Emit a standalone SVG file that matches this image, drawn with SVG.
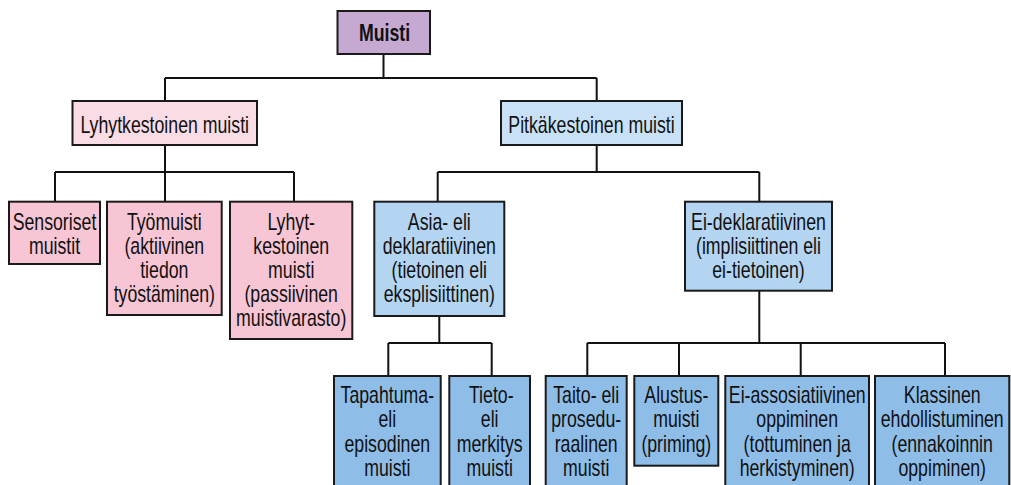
<svg xmlns="http://www.w3.org/2000/svg" width="1011" height="485" viewBox="0 0 1011 485">
<style>
rect{stroke:#1a1a1a;stroke-width:2}
text{font-family:"Liberation Sans",Arial,sans-serif;font-size:23px;fill:#111;text-anchor:middle}
.root{fill:#c5a9d1}
.st{fill:#fadce5}
.stc{fill:#f7c5d3}
.lt{fill:#c9e1f6}
.mid{fill:#b3d5f1}
.leaf{fill:#8ebde8}
#connectors path{fill:none;stroke:#111;stroke-width:2}
</style>
<rect width="1011" height="485" fill="#fff" style="stroke:none"/>
<g id="connectors">
<path d="M383.5 54V78M165 78H596.7M165 78V101M596.7 78V101"/>
<path d="M165 145V172M55 172H294M55 172V201.7M165 172V201.7M294 172V201.7"/>
<path d="M596.7 145V172M437.7 172H759.3M437.7 172V201.7M759.3 172V201.7"/>
<path d="M439.3 316V343M388.3 343H491.7M388.3 343V376M491.7 343V376"/>
<path d="M759.3 290.7V343M587.3 343H945M587.3 343V376M679 343V376M800.7 343V376M945 343V376"/>
</g>
<g id="muisti"><rect class="root" x="337.5" y="11" width="92.5" height="43"/><g transform="translate(384.5 0) scale(0.77 1)"><text x="0" y="41.5" font-weight="bold">Muisti</text></g></g>
<g id="lyhytkestoinen"><rect class="st" x="72.5" y="101" width="184.5" height="44"/><g transform="translate(164.7 0) scale(0.77 1)"><text x="0" y="133.3">Lyhytkestoinen muisti</text></g></g>
<g id="pitkakestoinen"><rect class="lt" x="501" y="101" width="181" height="44"/><g transform="translate(591.5 0) scale(0.77 1)"><text x="0" y="133.3">Pitkäkestoinen muisti</text></g></g>
<g id="sensoriset"><rect class="stc" x="9" y="201.7" width="91" height="62.3"/><g transform="translate(54.5 0) scale(0.77 1)"><text x="0" y="230">Sensoriset</text><text x="0" y="254">muistit</text></g></g>
<g id="tyomuisti"><rect class="stc" x="107" y="201.7" width="114.7" height="113.3"/><g transform="translate(164.3 0) scale(0.77 1)"><text x="0" y="230">Työmuisti</text><text x="0" y="254">(aktiivinen</text><text x="0" y="278">tiedon</text><text x="0" y="302">työstäminen)</text></g></g>
<g id="lyhyt-kestoinen"><rect class="stc" x="230" y="201.7" width="122.3" height="137.3"/><g transform="translate(291.2 0) scale(0.77 1)"><text x="0" y="230">Lyhyt-</text><text x="0" y="254">kestoinen</text><text x="0" y="278">muisti</text><text x="0" y="302">(passiivinen</text><text x="0" y="326">muistivarasto)</text></g></g>
<g id="asia"><rect class="mid" x="374.3" y="201.7" width="130" height="114.3"/><g transform="translate(439.3 0) scale(0.77 1)"><text x="0" y="230">Asia- eli</text><text x="0" y="254">deklaratiivinen</text><text x="0" y="278">(tietoinen eli</text><text x="0" y="302">eksplisiittinen)</text></g></g>
<g id="ei-deklaratiivinen"><rect class="mid" x="685" y="201.7" width="147" height="89"/><g transform="translate(758.5 0) scale(0.77 1)"><text x="0" y="230">Ei-deklaratiivinen</text><text x="0" y="254">(implisiittinen eli</text><text x="0" y="278">ei-tietoinen)</text></g></g>
<g id="tapahtuma"><rect class="leaf" x="334" y="376" width="106.7" height="115"/><g transform="translate(387.3 0) scale(0.77 1)"><text x="0" y="403">Tapahtuma-</text><text x="0" y="427.5">eli</text><text x="0" y="452">episodinen</text><text x="0" y="476.5">muisti</text></g></g>
<g id="tieto"><rect class="leaf" x="449.3" y="376" width="80.7" height="115"/><g transform="translate(489.7 0) scale(0.77 1)"><text x="2" y="403">Tieto-</text><text x="0" y="427.5">eli</text><text x="0" y="452">merkitys</text><text x="0" y="476.5">muisti</text></g></g>
<g id="taito"><rect class="leaf" x="545.7" y="376" width="81" height="115"/><g transform="translate(586.2 0) scale(0.77 1)"><text x="0" y="403">Taito- eli</text><text x="0" y="427.5">prosedu-</text><text x="0" y="452">raalinen</text><text x="0" y="476.5">muisti</text></g></g>
<g id="alustus"><rect class="leaf" x="634.3" y="376" width="84" height="89.7"/><g transform="translate(676.3 0) scale(0.77 1)"><text x="0" y="403">Alustus-</text><text x="0" y="427.5">muisti</text><text x="0" y="452">(priming)</text></g></g>
<g id="ei-assosiatiivinen"><rect class="leaf" x="725.3" y="376" width="143.7" height="115"/><g transform="translate(797.2 0) scale(0.77 1)"><text x="0" y="403">Ei-assosiatiivinen</text><text x="0" y="427.5">oppiminen</text><text x="0" y="452">(tottuminen ja</text><text x="0" y="476.5">herkistyminen)</text></g></g>
<g id="klassinen"><rect class="leaf" x="875" y="376" width="134.3" height="115"/><g transform="translate(942.2 0) scale(0.77 1)"><text x="0" y="403">Klassinen</text><text x="0" y="427.5">ehdollistuminen</text><text x="0" y="452">(ennakoinnin</text><text x="0" y="476.5">oppiminen)</text></g></g>
</svg>
